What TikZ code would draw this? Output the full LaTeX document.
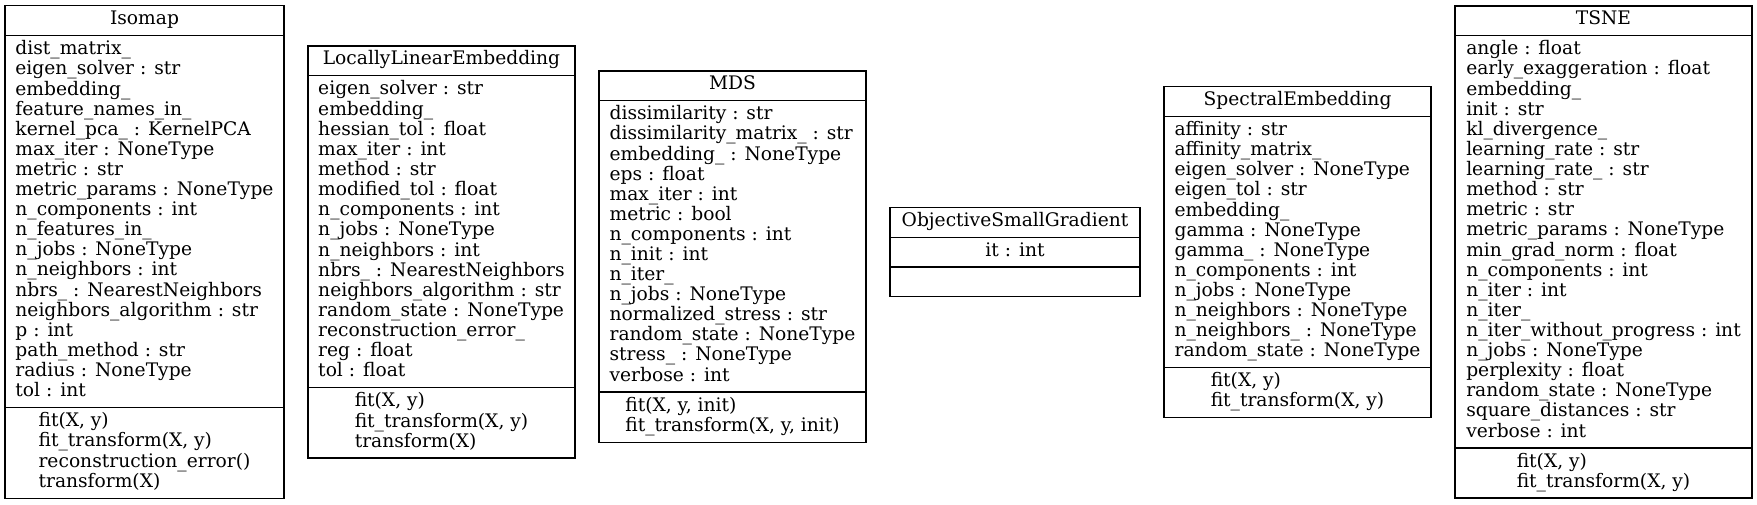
\documentclass[tikz,border=0pt]{standalone}
\usepackage{fontspec}
\setmainfont{DejaVu Serif}
\usetikzlibrary{shapes,positioning}

\newcommand{\members}[1]{\begin{tabular}{@{}l@{}}#1\end{tabular}}

\begin{document}
\begin{tikzpicture}[x=0.75pt,y=-0.75pt,node distance=17.1pt,
  umlclass/.style={draw, rectangle split, rectangle split parts=3, line width=0.9pt,
    inner xsep=4pt, inner ysep=3.2pt, font=\fontsize{14}{15}\selectfont}]
\useasboundingbox (0,0) rectangle (1757,504);
\node[umlclass, minimum width=209.25pt] (isomap) at (144.5,252) {\members{Isomap}
  \nodepart{two}\members{dist\_matrix\_\\ eigen\_solver : str\\ embedding\_\\ feature\_names\_in\_\\
    kernel\_pca\_ : KernelPCA\\ max\_iter : NoneType\\ metric : str\\ metric\_params : NoneType\\
    n\_components : int\\ n\_features\_in\_\\ n\_jobs : NoneType\\ n\_neighbors : int\\
    nbrs\_ : NearestNeighbors\\ neighbors\_algorithm : str\\ p : int\\ path\_method : str\\
    radius : NoneType\\ tol : int}
  \nodepart{three}\members{fit(X, y)\\ fit\_transform(X, y)\\ reconstruction\_error()\\ transform(X)}};
\node[umlclass, minimum width=200.25pt, right=of isomap] (lle) {\members{LocallyLinearEmbedding}
  \nodepart{two}\members{eigen\_solver : str\\ embedding\_\\ hessian\_tol : float\\ max\_iter : int\\
    method : str\\ modified\_tol : float\\ n\_components : int\\ n\_jobs : NoneType\\
    n\_neighbors : int\\ nbrs\_ : NearestNeighbors\\ neighbors\_algorithm : str\\
    random\_state : NoneType\\ reconstruction\_error\_\\ reg : float\\ tol : float}
  \nodepart{three}\members{fit(X, y)\\ fit\_transform(X, y)\\ transform(X)}};
\node[umlclass, minimum width=200.25pt, right=of lle, yshift=-3.4pt] (mds) {\members{MDS}
  \nodepart{two}\members{dissimilarity : str\\ dissimilarity\_matrix\_ : str\\ embedding\_ : NoneType\\
    eps : float\\ max\_iter : int\\ metric : bool\\ n\_components : int\\ n\_init : int\\ n\_iter\_\\
    n\_jobs : NoneType\\ normalized\_stress : str\\ random\_state : NoneType\\
    stress\_ : NoneType\\ verbose : int}
  \nodepart{three}\members{fit(X, y, init)\\ fit\_transform(X, y, init)}};
\node[umlclass, minimum width=187.5pt, right=of mds, yshift=3.4pt] (objgrad) {\members{ObjectiveSmallGradient}
  \nodepart{two}\members{it : int}
  \nodepart{three}\members{\strut}};
\node[umlclass, minimum width=200.25pt, right=of objgrad] (spectral) {\members{SpectralEmbedding}
  \nodepart{two}\members{affinity : str\\ affinity\_matrix\_\\ eigen\_solver : NoneType\\
    eigen\_tol : str\\ embedding\_\\ gamma : NoneType\\ gamma\_ : NoneType\\ n\_components : int\\
    n\_jobs : NoneType\\ n\_neighbors : NoneType\\ n\_neighbors\_ : NoneType\\ random\_state : NoneType}
  \nodepart{three}\members{fit(X, y)\\ fit\_transform(X, y)}};
\node[umlclass, minimum width=222.75pt, right=of spectral] (tsne) {\members{TSNE}
  \nodepart{two}\members{angle : float\\ early\_exaggeration : float\\ embedding\_\\ init : str\\
    kl\_divergence\_\\ learning\_rate : str\\ learning\_rate\_ : str\\ method : str\\ metric : str\\
    metric\_params : NoneType\\ min\_grad\_norm : float\\ n\_components : int\\ n\_iter : int\\
    n\_iter\_\\ n\_iter\_without\_progress : int\\ n\_jobs : NoneType\\ perplexity : float\\
    random\_state : NoneType\\ square\_distances : str\\ verbose : int}
  \nodepart{three}\members{fit(X, y)\\ fit\_transform(X, y)}};
\end{tikzpicture}
\end{document}
